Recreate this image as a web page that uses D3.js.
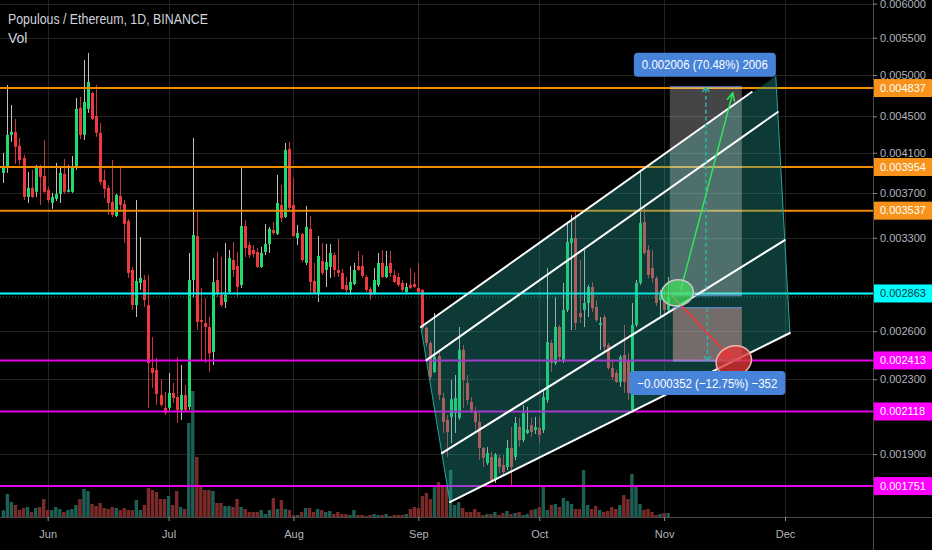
<!DOCTYPE html>
<html><head><meta charset="utf-8">
<script src="https://cdnjs.cloudflare.com/ajax/libs/d3/7.8.5/d3.min.js"></script>
<style>body{margin:0;background:#000;overflow:hidden}svg{display:block}</style>
</head><body><svg id="c" width="932" height="550"></svg>
<script>
// ---------------- DATA ----------------
const firstDay = "2019-05-21", dayAfterLast = "2019-11-03";
const opens = [0.003895,0.003955,0.004292,0.004325,0.004173,0.004046,0.003663,0.003749,0.003711,0.003955,
0.003865,0.003730,0.003607,0.003644,0.003692,0.003885,0.003711,0.003711,0.003955,0.004598,
0.004292,0.004586,0.004777,0.004504,0.004314,0.003825,0.003749,0.003616,0.003489,0.003673,
0.003598,0.003444,0.003040,0.002780,0.002941,0.002963,0.002780,0.002367,0.002355,0.002210,
0.002138,0.002138,0.002221,0.002198,0.002127,0.002210,0.002143,0.002963,0.003315,0.002675,
0.002655,0.002628,0.002466,0.002963,0.002852,0.002801,0.002874,0.003118,0.003071,0.002926,
0.003401,0.003240,0.003199,0.003183,0.003064,0.003183,0.003248,0.003367,0.003333,0.003589,
0.003480,0.004141,0.003589,0.003298,0.003333,0.003095,0.003376,0.002956,0.002867,0.003110,
0.003040,0.003064,0.003158,0.003040,0.003017,0.002926,0.002889,0.002933,0.003071,0.003071,
0.002986,0.002896,0.002867,0.002926,0.003095,0.002986,0.003095,0.003001,0.002986,0.002941,
0.002874,0.002926,0.002933,0.002904,0.002889,0.002622,0.002523,0.002343,0.002440,0.002192,
0.002073,0.002089,0.002110,0.002084,0.002479,0.002278,0.002170,0.002116,0.002062,0.001930,
0.001857,0.001886,0.001778,0.001881,0.001848,0.001839,0.001930,0.001886,0.002036,0.001969,
0.002005,0.002046,0.002021,0.002031,0.002021,0.002181,0.002523,0.002397,0.002628,0.002415,
0.002745,0.003257,0.003298,0.002724,0.002745,0.002794,0.002911,0.002766,0.002642,0.002696,
0.002510,0.002367,0.002337,0.002284,0.002447,0.002415,0.002127,0.002642,0.002941,0.003436,
0.003199,0.003056,0.002978,0.002815,0.002815,0.002745];
const highs = [0.004099,0.004876,0.004633,0.004469,0.004258,0.004078,0.003905,0.003925,0.003975,0.003975,
0.004236,0.003758,0.003701,0.003995,0.003955,0.004035,0.003975,0.004066,0.004716,0.004728,
0.005196,0.005290,0.004789,0.004876,0.004425,0.003925,0.003777,0.004025,0.003692,0.003955,
0.003634,0.003462,0.003064,0.003634,0.003307,0.003001,0.003001,0.002562,0.002428,0.002301,
0.002226,0.002337,0.002278,0.002434,0.002385,0.002266,0.003175,0.004258,0.003526,0.002904,
0.002830,0.002696,0.003134,0.003183,0.003142,0.003257,0.003199,0.003265,0.003183,0.003945,
0.003453,0.003265,0.003240,0.003216,0.003224,0.003419,0.003393,0.003436,0.003875,0.003777,
0.004204,0.004215,0.003845,0.003410,0.003341,0.003580,0.003489,0.003095,0.003315,0.003257,
0.003248,0.003248,0.003183,0.003290,0.003048,0.002986,0.003071,0.003095,0.003191,0.003158,
0.003001,0.002911,0.003056,0.003175,0.003199,0.003191,0.003191,0.003040,0.003017,0.002963,
0.002941,0.003056,0.003017,0.003095,0.002896,0.002635,0.002536,0.002724,0.002479,0.002221,
0.002099,0.002295,0.002325,0.002628,0.002510,0.002325,0.002198,0.002143,0.002110,0.001935,
0.001935,0.001910,0.001905,0.001896,0.001896,0.001969,0.002036,0.002089,0.002084,0.002154,
0.002143,0.002084,0.002089,0.002089,0.002238,0.003056,0.002542,0.002837,0.002642,0.002941,
0.003427,0.003498,0.003544,0.003118,0.003199,0.002926,0.002948,0.002815,0.002696,0.002710,
0.002523,0.002415,0.002355,0.002447,0.002642,0.002460,0.002794,0.002963,0.003925,0.003589,
0.003240,0.003199,0.002994,0.002889,0.002889,0.002986];
const lows = [0.003796,0.003895,0.004215,0.003985,0.003975,0.003634,0.003607,0.003653,0.003663,0.003589,
0.003701,0.003607,0.003553,0.003625,0.003607,0.003692,0.003706,0.003701,0.003925,0.004247,
0.004236,0.004540,0.004458,0.004270,0.003777,0.003653,0.003498,0.003480,0.003480,0.003544,
0.003257,0.002978,0.002745,0.002696,0.002889,0.002766,0.002138,0.002249,0.002154,0.002143,
0.002099,0.002127,0.002165,0.002057,0.002073,0.002116,0.002127,0.002837,0.002608,0.002415,
0.002397,0.002343,0.002385,0.002837,0.002766,0.002759,0.002867,0.002986,0.002837,0.002904,
0.003142,0.003134,0.003142,0.003056,0.003056,0.003158,0.003175,0.003324,0.003324,0.003436,
0.003471,0.003544,0.003307,0.003240,0.003102,0.003079,0.002867,0.002859,0.002801,0.003001,
0.002911,0.002978,0.002986,0.002986,0.002889,0.002852,0.002852,0.002926,0.003033,0.002978,
0.002874,0.002815,0.002852,0.002911,0.002978,0.002978,0.002986,0.002941,0.002911,0.002874,
0.002867,0.002896,0.002904,0.002867,0.002608,0.002498,0.002295,0.002337,0.002181,0.002005,
0.001886,0.001954,0.002005,0.002073,0.002138,0.002154,0.002110,0.002021,0.001871,0.001839,
0.001848,0.001769,0.001765,0.001811,0.001801,0.001825,0.001756,0.001871,0.001935,0.001959,
0.002000,0.001985,0.002000,0.001954,0.002005,0.002165,0.002343,0.002385,0.002403,0.002397,
0.002731,0.002608,0.002608,0.002655,0.002628,0.002696,0.002731,0.002662,0.002479,0.002466,
0.002355,0.002295,0.002278,0.002255,0.002221,0.002181,0.002110,0.002628,0.002926,0.003158,
0.002978,0.002941,0.002773,0.002703,0.002710,0.002731];
const closes = [0.003955,0.004292,0.004325,0.004162,0.004025,0.003663,0.003749,0.003663,0.003945,0.003855,
0.003711,0.003634,0.003663,0.003692,0.003895,0.003711,0.003730,0.003955,0.004586,0.004292,
0.004668,0.004913,0.004470,0.004314,0.003806,0.003739,0.003607,0.003498,0.003682,0.003589,
0.003419,0.003017,0.002780,0.002956,0.002978,0.002815,0.002397,0.002337,0.002215,0.002154,
0.002110,0.002221,0.002192,0.002127,0.002210,0.002127,0.002963,0.003324,0.002662,0.002662,
0.002628,0.002457,0.002948,0.002867,0.002780,0.002852,0.003134,0.003040,0.002911,0.003401,
0.003216,0.003158,0.003167,0.003064,0.003175,0.003248,0.003376,0.003341,0.003607,0.003471,
0.004131,0.003562,0.003315,0.003341,0.003118,0.003393,0.002948,0.002867,0.003150,0.003017,
0.003102,0.003175,0.003040,0.003017,0.002896,0.002889,0.002948,0.003040,0.003040,0.002994,
0.002889,0.002852,0.002963,0.003095,0.002986,0.003071,0.003017,0.002948,0.002926,0.002889,
0.002911,0.002904,0.002911,0.002874,0.002622,0.002523,0.002313,0.002434,0.002210,0.002062,
0.002010,0.002186,0.002192,0.002479,0.002295,0.002181,0.002127,0.002062,0.001930,0.001881,
0.001905,0.001778,0.001896,0.001839,0.001815,0.001930,0.001839,0.002057,0.001969,0.002110,
0.002021,0.002010,0.002036,0.001995,0.002198,0.002529,0.002397,0.002628,0.002434,0.002745,
0.003265,0.003298,0.002655,0.002696,0.002794,0.002911,0.002759,0.002675,0.002655,0.002498,
0.002367,0.002313,0.002284,0.002434,0.002284,0.002221,0.002642,0.002941,0.003427,0.003175,
0.003001,0.002978,0.002794,0.002852,0.002745,0.002837];
const volumes = [67,230,150,120,70,90,100,50,90,100,
180,70,70,100,80,50,70,80,120,180,
280,260,130,110,140,90,80,100,90,70,
90,70,70,170,70,120,290,270,250,180,
180,210,120,260,100,80,940,1260,600,320,
270,270,260,140,140,110,110,100,180,100,
80,50,50,50,70,30,70,190,80,170,
80,70,20,20,50,90,90,50,80,70,
50,60,30,50,30,30,20,70,20,20,
10,20,30,20,20,30,10,20,20,20,
30,80,100,90,210,240,180,300,350,320,
300,470,120,150,90,50,50,80,50,20,
30,30,50,20,40,60,30,40,50,20,
30,70,80,100,320,70,120,130,100,190,
160,130,80,80,470,120,80,110,70,50,
60,100,80,120,220,180,430,320,130,70,
80,50,20,30,40,40];

const priceTicks = [0.0060,0.0055,0.0050,0.0045,0.0041,0.0037,0.0033,0.0026,0.0023,0.0019];
const monthTicks = ["2019-06-01","2019-07-01","2019-08-01","2019-09-01","2019-10-01","2019-11-01","2019-12-01"];
const orangeLevels = [0.004837,0.003954,0.003537];
const cyanLevels = [0.002863];
const magentaLevels = [0.002413,0.002118,0.001751];
const lastPrice = 0.002837;

const title = "Populous / Ethereum, 1D, BINANCE";
const subTitle = "Vol";

// drawing tools (time, price)
const channelArea = [["2019-09-01T15:00",0.002628],["2019-11-28T17:00",0.004988],["2019-12-02T05:00",0.002588],["2019-09-08T20:00",0.001681]];
const channelLines = [
  [["2019-09-01T15:00",0.002628],["2019-11-22T18:00",0.004788]],
  [["2019-09-03T00:00",0.002415],["2019-11-29T05:00",0.004550]],
  [["2019-09-06T20:00",0.001905],["2019-11-30T23:00",0.003281]],
  [["2019-09-08T20:00",0.001681],["2019-12-02T05:00",0.002588]]
];
const rangeBoxes = [
  {t0:"2019-11-02T10:00", t1:"2019-11-20T07:00", from:0.002846, to:0.004852, label:"0.002006 (70.48%) 2006", fill:"rgba(255,255,255,0.27)"},
  {t0:"2019-11-03T04:00", t1:"2019-11-20T07:00", from:0.002761, to:0.002409, label:"\u22120.000352 (\u221212.75%) \u2212352", fill:"rgba(240,170,170,0.45)"}
];
const arrows = [
  {a:["2019-11-05T03:00",0.002889], b:["2019-11-18T01:00",0.004777], color:"#2ee85a"},
  {a:["2019-11-02T10:00",0.002865], b:["2019-11-17T07:00",0.002436], color:"#ff3030"}
];
const ellipses = [
  {c:["2019-11-04T07:00",0.002867], fill:"rgba(70,225,95,0.72)", stroke:"#c8c8c8", rx:16, ry:13, rot:-10},
  {c:["2019-11-18T07:00",0.002409], fill:"rgba(225,55,55,0.78)", stroke:"#f0b4b4", rx:18, ry:15, rot:-20}
];

// ---------------- CHART ----------------
const W = 932, H = 550, axisX = 873, axisY = 517;
const FONT = "'Liberation Sans', Arial, sans-serif";
const svg = d3.select("#c");
svg.append("rect").attr("width", W).attr("height", H).attr("fill", "#000");

const pDay = d3.utcParse("%Y-%m-%d"), pT = d3.utcParse("%Y-%m-%dT%H:%M");
const dates = d3.utcDay.range(pDay(firstDay), pDay(dayAfterLast));
const x = d3.scaleUtc().domain([pDay("2019-06-01"), pDay("2019-12-01")]).range([47.7, 785]);
const y = d3.scaleLog().domain([0.001618, 0.006056]).range([axisY, 0]);
const yv = d3.scaleLinear().domain([0, 1300]).range([axisY, axisY - 130]);
const P = a => [x(pT(a[0])), y(a[1])];

svg.append("defs").append("clipPath").attr("id", "plot").append("rect").attr("width", axisX).attr("height", axisY);
const plot = svg.append("g").attr("clip-path", "url(#plot)");

// grid
const grid = plot.append("g").attr("stroke", "#232323").attr("stroke-width", 1);
grid.selectAll(".h").data(priceTicks).join("line")
  .attr("x1", 0).attr("x2", axisX).attr("y1", d => Math.round(y(d)) + 0.5).attr("y2", d => Math.round(y(d)) + 0.5);
grid.selectAll(".v").data(monthTicks.map(pDay)).join("line")
  .attr("y1", 0).attr("y2", axisY).attr("x1", d => Math.round(x(d)) + 0.5).attr("x2", d => Math.round(x(d)) + 0.5);

const bars = dates.map((d, i) => ({d, o: opens[i], h: highs[i], l: lows[i], c: closes[i], v: volumes[i], up: closes[i] >= opens[i]}));

// volume
plot.append("g").selectAll("rect").data(bars).join("rect")
  .attr("x", d => x(d.d) - 1.7).attr("width", 3.4)
  .attr("y", d => yv(d.v)).attr("height", d => axisY - yv(d.v))
  .attr("fill", d => d.up ? "#1c5f55" : "#7a2b29");

// candles
const cg = plot.append("g");
cg.selectAll("line").data(bars).join("line")
  .attr("x1", d => Math.round(x(d.d)) + 0.5).attr("x2", d => Math.round(x(d.d)) + 0.5)
  .attr("y1", d => y(d.h)).attr("y2", d => y(d.l))
  .attr("stroke", d => d.up ? "#bfbfbf" : "#c8363c").attr("stroke-width", 1);
cg.selectAll("rect").data(bars).join("rect")
  .attr("x", d => Math.round(x(d.d)) - 1).attr("width", 3)
  .attr("y", d => y(Math.max(d.o, d.c)))
  .attr("height", d => Math.max(1, Math.abs(y(d.o) - y(d.c))))
  .attr("fill", d => d.up ? "#1fdc6e" : "#ee3a3e");

// horizontal levels
const lv = plot.append("g");
lv.append("line").attr("x1", 0).attr("x2", axisX).attr("y1", y(lastPrice)).attr("y2", y(lastPrice))
  .attr("stroke", "#1f7a3a").attr("stroke-width", 1).attr("stroke-dasharray", "1,2");
const levelSets = [[orangeLevels, "#f08c00"], [cyanLevels, "#00ffff"], [magentaLevels, "#e600e6"]];
levelSets.forEach(([arr, col]) => {
  lv.selectAll(null).data(arr).join("line")
    .attr("x1", 0).attr("x2", axisX).attr("y1", d => y(d)).attr("y2", d => y(d))
    .attr("stroke", col).attr("stroke-width", 2);
});

// channel
const ch = plot.append("g");
ch.append("path").attr("d", d3.line()(channelArea.map(P)) + "Z")
  .attr("fill", "rgba(38,166,154,0.35)").attr("stroke", "none");
ch.append("line").attr("x1", P(channelArea[0])[0]).attr("y1", P(channelArea[0])[1])
  .attr("x2", P(channelArea[3])[0]).attr("y2", P(channelArea[3])[1]).attr("stroke", "#26a69a").attr("stroke-width", 1);
ch.append("line").attr("x1", P(channelArea[1])[0]).attr("y1", P(channelArea[1])[1])
  .attr("x2", P(channelArea[2])[0]).attr("y2", P(channelArea[2])[1]).attr("stroke", "#26a69a").attr("stroke-width", 1);
channelLines.forEach(l => {
  const a = P(l[0]), b = P(l[1]);
  ch.append("line").attr("x1", a[0]).attr("y1", a[1]).attr("x2", b[0]).attr("y2", b[1])
    .attr("stroke", "#ffffff").attr("stroke-width", 2).attr("stroke-linecap", "round");
});

// price range boxes
const rb = plot.append("g");
rangeBoxes.forEach(b => {
  const x0 = x(pT(b.t0)), x1 = x(pT(b.t1));
  const yA = y(b.from), yB = y(b.to);
  const top = Math.min(yA, yB), bot = Math.max(yA, yB);
  rb.append("rect").attr("x", x0).attr("y", top).attr("width", x1 - x0).attr("height", bot - top).attr("fill", b.fill);
  [top, bot].forEach(yy => rb.append("line").attr("x1", x0).attr("x2", x1).attr("y1", yy).attr("y2", yy)
    .attr("stroke", "#5b8fd6").attr("stroke-width", 1));
  const xm = (x0 + x1) / 2;
  rb.append("line").attr("x1", xm).attr("x2", xm).attr("y1", yA).attr("y2", yB)
    .attr("stroke", "#2fb3aa").attr("stroke-width", 1.5).attr("stroke-dasharray", "4,3");
  const dir = yB < yA ? 1 : -1;
  rb.append("path").attr("d", `M${xm - 3.5},${yB + dir * 5}L${xm},${yB + dir * 1}L${xm + 3.5},${yB + dir * 5}`)
    .attr("fill", "none").attr("stroke", "#2fb3aa").attr("stroke-width", 1.5);
});

// arrows
arrows.forEach(a => {
  const p0 = P(a.a), p1 = P(a.b);
  rb.append("line").attr("x1", p0[0]).attr("y1", p0[1]).attr("x2", p1[0]).attr("y2", p1[1])
    .attr("stroke", a.color).attr("stroke-width", 1.5);
  const ang = Math.atan2(p1[1] - p0[1], p1[0] - p0[0]);
  const L = 9, s = 0.45;
  const h1 = [p1[0] - L * Math.cos(ang - s), p1[1] - L * Math.sin(ang - s)];
  const h2 = [p1[0] - L * Math.cos(ang + s), p1[1] - L * Math.sin(ang + s)];
  rb.append("path").attr("d", `M${h1}L${p1}L${h2}`).attr("fill", "none")
    .attr("stroke", a.color).attr("stroke-width", 1.5);
});

// ellipses
ellipses.forEach(e => {
  const c = P(e.c);
  rb.append("ellipse").attr("cx", 0).attr("cy", 0).attr("rx", e.rx).attr("ry", e.ry)
    .attr("transform", `translate(${c[0]},${c[1]}) rotate(${e.rot})`)
    .attr("fill", e.fill).attr("stroke", e.stroke).attr("stroke-width", 1.5);
});

// range labels
function labelBox(cx, cy, txt, tw) {
  const g = svg.append("g");
  const r = g.append("rect");
  const t = g.append("text").attr("x", cx).attr("y", cy).attr("dy", "0.35em").attr("text-anchor", "middle")
    .attr("fill", "#ffffff").style("font-family", FONT).style("font-size", "13px")
    .attr("textLength", tw).attr("lengthAdjust", "spacingAndGlyphs").text(txt);
  const w = tw + 16;
  r.attr("x", cx - w / 2).attr("y", cy - 12).attr("width", w).attr("height", 24).attr("rx", 4).attr("fill", "#4783d9");
}
{
  const b1 = rangeBoxes[0], b2 = rangeBoxes[1];
  const m1 = (x(pT(b1.t0)) + x(pT(b1.t1))) / 2, m2 = (x(pT(b2.t0)) + x(pT(b2.t1))) / 2;
  labelBox(m1 - 1, y(b1.to) - 22, b1.label, 126);
  labelBox(m2, y(b2.to) + 22, b2.label, 140);
}

// separators
svg.append("line").attr("x1", axisX + 0.5).attr("x2", axisX + 0.5).attr("y1", 0).attr("y2", H).attr("stroke", "#4a4a4a");
svg.append("line").attr("x1", 0).attr("x2", W).attr("y1", axisY + 0.5).attr("y2", axisY + 0.5).attr("stroke", "#4a4a4a");

// price axis
const ya = svg.append("g").attr("transform", `translate(${axisX},0)`)
  .call(d3.axisRight(y).tickValues(priceTicks).tickFormat(d3.format(".6f")).tickSize(4));
ya.select(".domain").remove();
ya.selectAll("line").attr("stroke", "#8a8a8a");
ya.selectAll("text").attr("fill", "#b2b5be").style("font-family", FONT).style("font-size", "11px");

// time axis
const xa = svg.append("g").attr("transform", `translate(0,${axisY})`)
  .call(d3.axisBottom(x).tickValues(monthTicks.map(pDay)).tickFormat(d3.utcFormat("%b")).tickSize(4));
xa.select(".domain").remove();
xa.selectAll("line").attr("stroke", "#8a8a8a");
xa.selectAll("text").attr("y", 13).attr("fill", "#b2b5be").style("font-family", FONT).style("font-size", "11px");

// level labels on axis
const lab = svg.append("g");
const labelSets = [[orangeLevels, "#f7931a", "#ffffff"], [cyanLevels, "#00ffff", "#083c3c"], [magentaLevels, "#ff00ff", "#ffffff"]];
labelSets.forEach(([arr, bg, fg]) => {
  arr.forEach(v => {
    lab.append("rect").attr("x", axisX + 1).attr("y", y(v) - 9).attr("width", W - axisX - 1).attr("height", 18).attr("fill", bg);
    lab.append("text").attr("x", axisX + 7).attr("y", y(v)).attr("dy", "0.35em").attr("fill", fg)
      .style("font-family", FONT).style("font-size", "11px").text(d3.format(".6f")(v));
  });
});

// titles
svg.append("text").attr("x", 8).attr("y", 24).attr("fill", "#d1d4dc").style("font-family", FONT).style("font-size", "14px")
  .attr("textLength", 200).attr("lengthAdjust", "spacingAndGlyphs").text(title);
svg.append("text").attr("x", 8).attr("y", 43).attr("fill", "#d1d4dc").style("font-family", FONT).style("font-size", "14px").text(subTitle);
</script>
</body></html>
